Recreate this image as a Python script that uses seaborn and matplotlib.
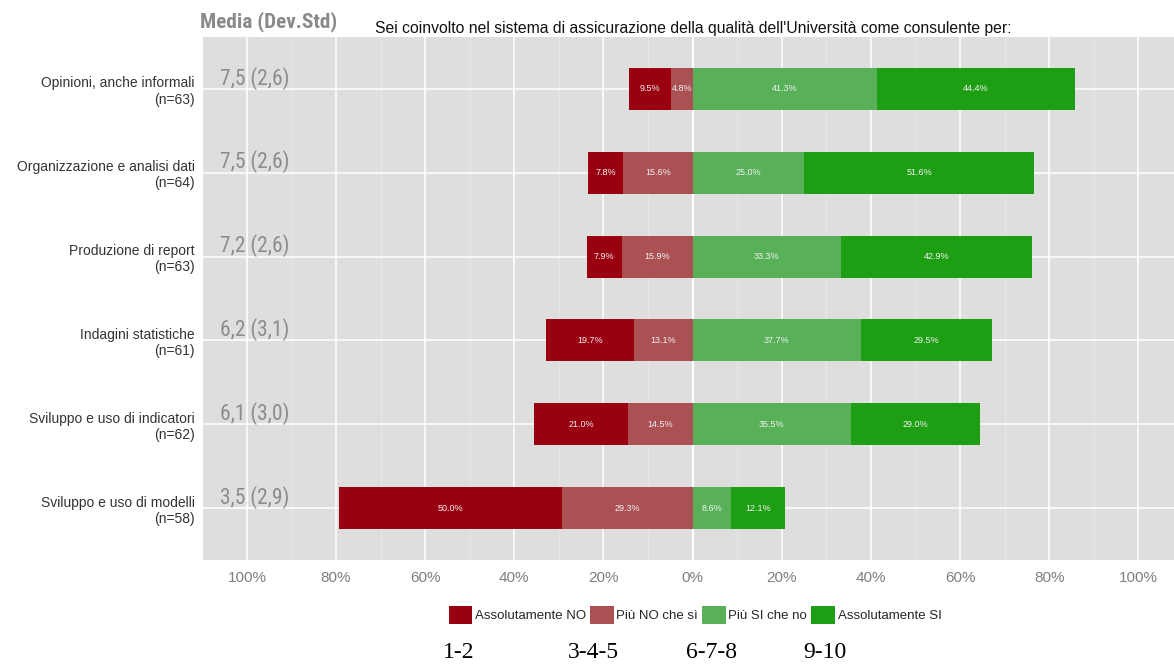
import matplotlib
matplotlib.use("Agg")
import matplotlib.pyplot as plt
from matplotlib.patches import Patch
from matplotlib.ticker import MultipleLocator, FuncFormatter
import seaborn as sns
import pandas as pd
import numpy as np

categories = ["Opinioni, anche informali\n(n=63)",
              "Organizzazione e analisi dati\n(n=64)",
              "Produzione di report\n(n=63)",
              "Indagini statistiche\n(n=61)",
              "Sviluppo e uso di indicatori\n(n=62)",
              "Sviluppo e uso di modelli\n(n=58)"]
ass_no = [9.5, 7.8, 7.9, 19.7, 21.0, 50.0]
piu_no = [4.8, 15.6, 15.9, 13.1, 14.5, 29.3]
piu_si = [41.3, 25.0, 33.3, 37.7, 35.5, 8.6]
ass_si = [44.4, 51.6, 42.9, 29.5, 29.0, 12.1]
medie = ["7,5 (2,6)", "7,5 (2,6)", "7,2 (2,6)", "6,2 (3,1)", "6,1 (3,0)", "3,5 (2,9)"]
legend_labels = ["Assolutamente NO", "Più NO che sì", "Più SI che no", "Assolutamente SI"]
score_labels = ["1-2", "3-4-5", "6-7-8", "9-10"]
colors = ["#990010", "#AB5154", "#58B058", "#1D9E13"]

sns.set_theme(style="darkgrid")
plt.rcParams['font.family'] = ['Liberation Sans', 'DejaVu Sans']

df = pd.DataFrame({"cat": categories,
                   "ass_no": np.array(ass_no) / 100, "piu_no": np.array(piu_no) / 100,
                   "piu_si": np.array(piu_si) / 100, "ass_si": np.array(ass_si) / 100})
df["neg_total"] = -(df["ass_no"] + df["piu_no"])
df["neg_inner"] = -df["piu_no"]
df["pos_total"] = df["piu_si"] + df["ass_si"]
df["pos_inner"] = df["piu_si"]

fig = plt.figure(figsize=(11.74, 6.64), dpi=100)
ax = fig.add_axes([203 / 1174, 1 - 560 / 664, 1 - 203 / 1174, (560 - 37) / 664])
ax.set_facecolor("#DEDEDE")

for col, c in [("neg_total", colors[0]), ("neg_inner", colors[1]),
               ("pos_total", colors[3]), ("pos_inner", colors[2])]:
    sns.barplot(data=df, x=col, y="cat", orient="h", color=c, width=0.5,
                saturation=1, ax=ax, linewidth=0, zorder=3)

ax.set_xlim(-1.0985, 1.08)
ax.set_ylim(5.62, -0.62)
ax.xaxis.set_major_locator(MultipleLocator(0.2))
ax.xaxis.set_minor_locator(MultipleLocator(0.1))
ax.xaxis.set_major_formatter(FuncFormatter(lambda v, p: f"{abs(round(v * 100)):d}%"))
ax.grid(which="major", color="white", linewidth=1.1)
ax.grid(which="minor", axis="x", color="#E8E8E8", linewidth=0.6)
ax.axvline(0, color="white", linewidth=1.6, zorder=2)
for s in ax.spines.values():
    s.set_visible(False)
ax.tick_params(axis="x", colors="#7F7F7F", labelsize=11, length=0, pad=8)
ax.tick_params(axis="y", colors="#333333", labelsize=10, length=0, pad=6)
for lab in ax.get_yticklabels():
    lab.set_horizontalalignment("right")
    lab.set_multialignment("right")
ax.set_xlabel("")
ax.set_ylabel("")

narrow = ['Roboto Condensed', 'Roboto', 'DejaVu Sans']

# segment labels
for i in range(len(categories)):
    segs = [(-(ass_no[i] + piu_no[i]) / 100, -piu_no[i] / 100, ass_no[i]),
            (-piu_no[i] / 100, 0, piu_no[i]),
            (0, piu_si[i] / 100, piu_si[i]),
            (piu_si[i] / 100, (piu_si[i] + ass_si[i]) / 100, ass_si[i])]
    for a, b, v in segs:
        ax.text((a + b) / 2, i, f"{v:.1f}%", color="#F2F2F2", fontsize=6.5,
                ha="center", va="center", zorder=5)
    ax.text(-1.06, i - 0.13, medie[i], color="#8C8C8C", fontsize=15.5,
            ha="left", va="center", zorder=5, family=narrow)

fig.text(200 / 1174, 1 - 22 / 664, "Media (Dev.Std)", color="#8A8A8A", fontsize=15.3,
         fontweight="bold", ha="left", va="center", family=narrow)
fig.text(375 / 1174, 1 - 28 / 664,
         "Sei coinvolto nel sistema di assicurazione della qualità dell'Università come consulente per:",
         color="#111111", fontsize=11.3, ha="left", va="center")

handles = [Patch(facecolor=c, edgecolor="none") for c in colors]
fig.legend(handles, legend_labels, loc="center", bbox_to_anchor=(695 / 1174, 1 - 615 / 664),
           ncol=4, frameon=False, fontsize=9.5, handlelength=1.8, handleheight=1.8,
           handletextpad=0.2, columnspacing=0.3)

for x, s in zip([443, 568, 686, 803], score_labels):
    fig.text(x / 1174, 1 - 653 / 664, s, fontsize=17,
             family=['Liberation Serif', 'DejaVu Serif'], color="black",
             ha="left", va="center")

fig.savefig("out.png", dpi=100)
